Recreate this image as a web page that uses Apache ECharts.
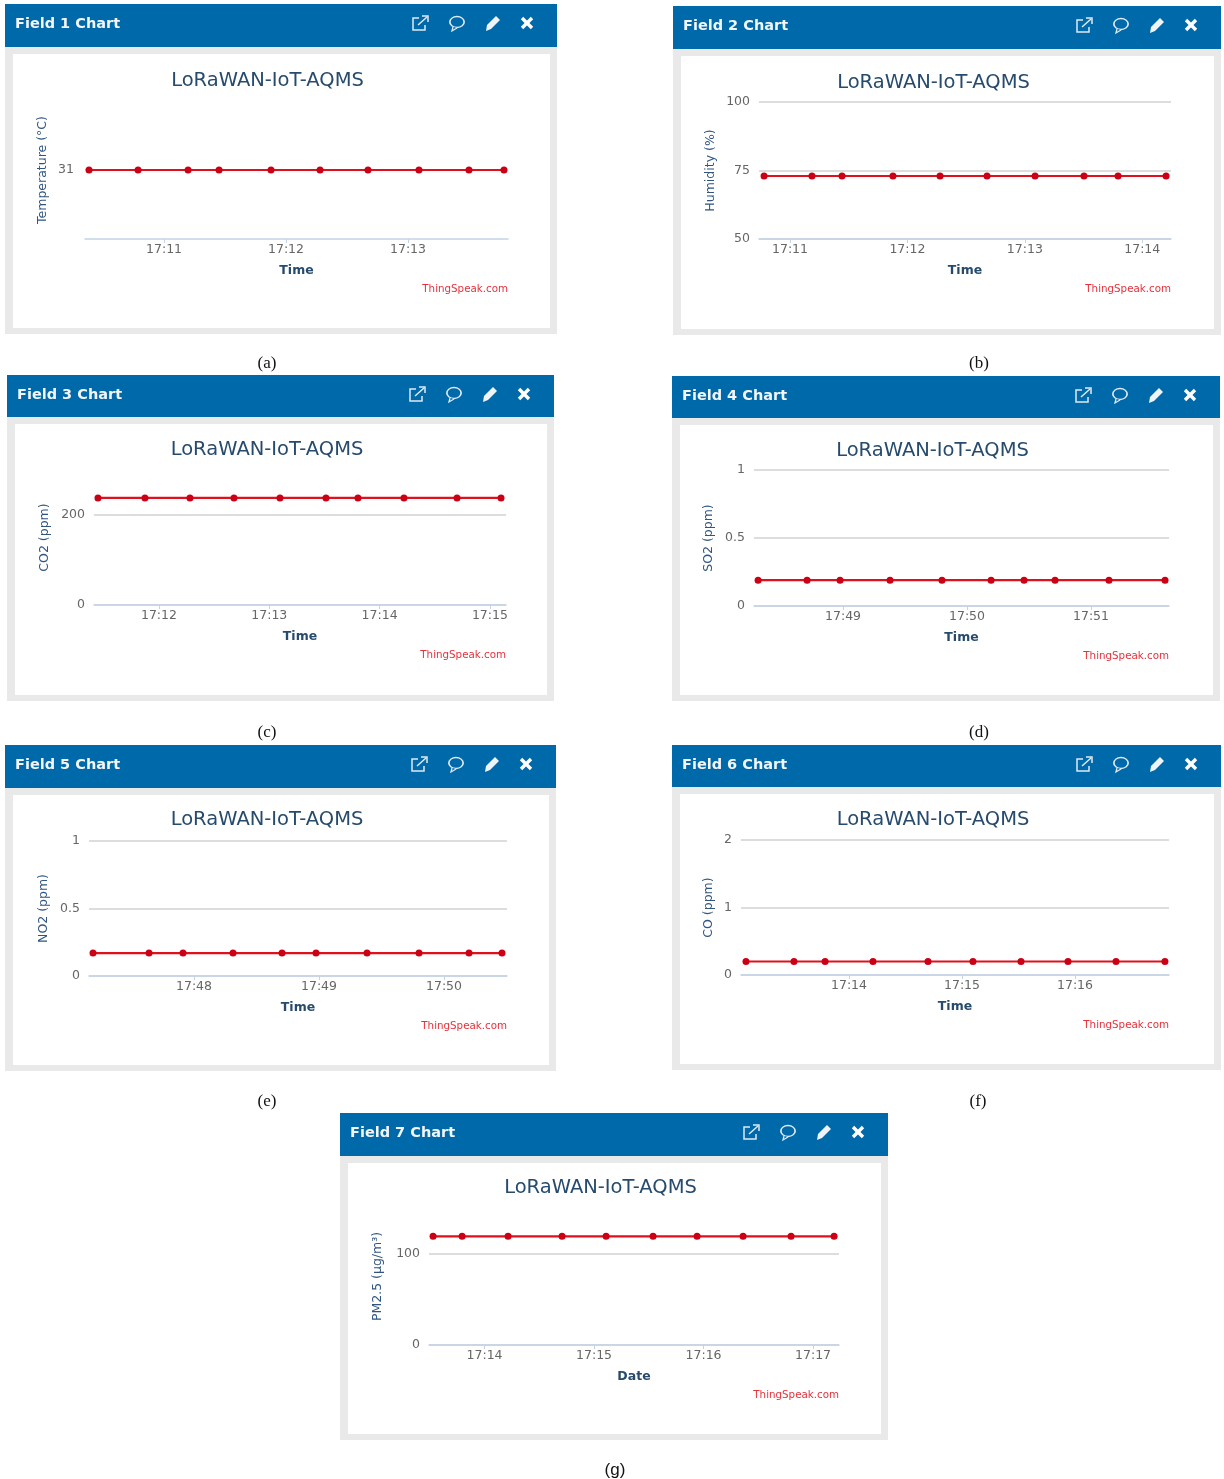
<!DOCTYPE html>
<html>
<head>
<meta charset="utf-8">
<style>
html,body{margin:0;padding:0;background:#fff;}
#chart{width:1224px;height:1479px;}
</style>
<script src="https://cdn.jsdelivr.net/npm/echarts@6/dist/echarts.min.js"></script>
</head>
<body>
<div id="chart"></div>
<script>
// minutes past 17:00 for every reading
var minutes1 = [10.385,10.787,11.197,11.451,11.877,12.279,12.672,13.090,13.500,13.787];
var minutes2 = [10.779,11.187,11.443,11.877,12.278,12.678,13.087,13.504,13.794,14.203];
var minutes3 = [11.447,11.873,12.281,12.680,13.097,13.514,13.804,14.221,14.702,15.101];
var minutes4 = [48.315,48.710,48.976,49.379,49.798,50.194,50.460,50.710,51.145,51.597];
var minutes5 = [47.192,47.640,47.912,48.312,48.704,48.976,49.384,49.800,50.200,50.464];
var minutes6 = [13.088,13.513,13.788,14.212,14.699,15.097,15.522,15.938,16.363,16.796];
var minutes7 = [13.530,13.795,14.215,14.708,15.110,15.539,15.941,16.361,16.799,17.192];

var values1 = [31,31,31,31,31,31,31,31,31,31];
var values2 = [73,73,73,73,73,73,73,73,73,73];
var values3 = [238,238,238,238,238,238,238,238,238,238];
var values4 = [0.19,0.19,0.19,0.19,0.19,0.19,0.19,0.19,0.19,0.19];
var values5 = [0.17,0.17,0.17,0.17,0.17,0.17,0.17,0.17,0.17,0.17];
var values6 = [0.2,0.2,0.2,0.2,0.2,0.2,0.2,0.2,0.2,0.2];
var values7 = [119,119,119,119,119,119,119,119,119,119];

var xTicks1 = [11,12,13];
var xTicks2 = [11,12,13,14];
var xTicks3 = [12,13,14,15];
var xTicks4 = [49,50,51];
var xTicks5 = [48,49,50];
var xTicks6 = [14,15,16];
var xTicks7 = [14,15,16,17];

var yTicks1 = [31];
var yTicks2 = [50,75,100];
var yTicks3 = [0,200];
var yTicks4 = [0,0.5,1];
var yTicks5 = [0,0.5,1];
var yTicks6 = [0,1,2];
var yTicks7 = [0,100];

var fieldNames = ['Field 1 Chart','Field 2 Chart','Field 3 Chart','Field 4 Chart','Field 5 Chart','Field 6 Chart','Field 7 Chart'];
var yNames = ['Temperature (°C)','Humidity (%)','CO2 (ppm)','SO2 (ppm)','NO2 (ppm)','CO (ppm)','PM2.5 (μg/m³)'];
var xNames = ['Time','Time','Time','Time','Time','Time','Date'];
var captions = ['(a)','(b)','(c)','(d)','(e)','(f)','(g)'];
var chartTitle = 'LoRaWAN-IoT-AQMS';
var credit = 'ThingSpeak.com';

// axis limits
var xMins = [10.352,10.736,11.411,48.282,47.160,13.044,13.493];
var xMaxs = [13.820,14.245,15.146,51.629,50.504,16.832,17.237];
var yMins = [30,50,0,0,0,0,0];
var yMaxs = [32,100,300,1,1,2,150];

var allMinutes = [minutes1,minutes2,minutes3,minutes4,minutes5,minutes6,minutes7];
var allValues = [values1,values2,values3,values4,values5,values6,values7];
var allXTicks = [xTicks1,xTicks2,xTicks3,xTicks4,xTicks5,xTicks6,xTicks7];
var allYTicks = [yTicks1,yTicks2,yTicks3,yTicks4,yTicks5,yTicks6,yTicks7];

// layout: panel box, header height, plot box, y name gap, y label margin, title offset
var panels = [
  {x:5,  y:4,    w:552, h:330, head:43, left:85,  right:508,  top:101,  bottom:239,  gap:36, margin:11, titleY:77},
  {x:673,y:6,    w:548, h:329, head:43, left:759, right:1171, top:102,  bottom:239,  gap:42, margin:9,  titleY:77},
  {x:7,  y:375,  w:547, h:326, head:42, left:94,  right:506,  top:470,  bottom:605,  gap:43, margin:9,  titleY:75},
  {x:672,y:376,  w:548, h:325, head:42, left:754, right:1169, top:470,  bottom:606,  gap:39, margin:9,  titleY:75},
  {x:5,  y:745,  w:551, h:326, head:43, left:89,  right:507,  top:841,  bottom:976,  gap:39, margin:9,  titleY:75},
  {x:672,y:745,  w:549, h:325, head:42, left:741, right:1169, top:840,  bottom:975,  gap:26, margin:9,  titleY:75},
  {x:340,y:1113, w:548, h:327, head:43, left:429, right:839,  top:1208, bottom:1345, gap:45, margin:9,  titleY:75}
];
var captionPos = [[267,364],[979,364],[267,733],[979,733],[267,1102],[978,1102],[615,1470]];

var headFont = 'bold 14.5px "DejaVu Sans"';
var blue = '#0069aa';

function minuteLabel(v){
  var m = Math.round(v);
  return '17:' + (m < 10 ? '0' + m : m);
}

function icons(px, py){
  var white = {stroke:'#dfeaf2', fill:null, lineWidth:1.5};
  return [
    {type:'group', x:px-145, y:py-8, silent:true, children:[
      {type:'polyline', shape:{points:[[7,3],[1,3],[1,15],[13,15],[13,10]]}, style:white},
      {type:'polyline', shape:{points:[[6,10],[15,2]]}, style:white},
      {type:'polyline', shape:{points:[[10,1],[16,1],[16,7]]}, style:white}
    ]},
    {type:'group', x:px-100, y:py, silent:true, children:[
      {type:'circle', scaleX:1.3, shape:{cx:0,cy:-1,r:5.5}, style:{stroke:'#dfeaf2', fill:null, lineWidth:1.3}},
      {type:'polyline', shape:{points:[[-4,4],[-5,8],[0,5]]}, style:{stroke:'#dfeaf2', fill:blue, lineWidth:1.3}}
    ]},
    {type:'polygon', x:px-72, y:py-8, silent:true, shape:{points:[[11,1],[15,5],[6,14],[1,16],[2,10]]}, style:{fill:'#eef4f8'}},
    {type:'group', x:px-36, y:py-6, silent:true, children:[
      {type:'line', shape:{x1:1,y1:1,x2:11,y2:11}, style:{stroke:'#fff', lineWidth:3.4}},
      {type:'line', shape:{x1:11,y1:1,x2:1,y2:11}, style:{stroke:'#fff', lineWidth:3.4}}
    ]}
  ];
}

var grids = [], xAxes = [], yAxes = [], series = [], graphics = [];

for(var i = 0; i < panels.length; i++){
  var p = panels[i];
  var inner = p.y + p.head + 7;

  graphics.push({type:'rect', z:-3, silent:true, shape:{x:p.x,y:p.y,width:p.w,height:p.h}, style:{fill:'#e9e9e9'}});
  graphics.push({type:'rect', z:-2, silent:true, shape:{x:p.x+8,y:inner,width:p.w-15,height:p.y+p.h-6-inner}, style:{fill:'#fff'}});
  graphics.push({type:'rect', z:-2, silent:true, shape:{x:p.x,y:p.y,width:p.w,height:p.head}, style:{fill:blue}});
  graphics.push({type:'text', x:p.x+10, y:p.y+20, silent:true, style:{text:fieldNames[i], fill:'#f2f6f9', font:headFont, textVerticalAlign:'middle'}});
  graphics.push({type:'text', x:p.x+p.w/2-13.5, y:p.y+p.titleY, silent:true, style:{text:chartTitle, fill:'#274b6d', font:'19.5px "DejaVu Sans"', textAlign:'center', textVerticalAlign:'middle'}});
  graphics.push({type:'text', x:p.right, y:p.bottom+50, silent:true, style:{text:credit, fill:'#e8303a', font:'10.3px "DejaVu Sans"', textAlign:'right', textVerticalAlign:'middle'}});
  graphics.push({type:'text', x:captionPos[i][0], y:captionPos[i][1], silent:true, style:{text:captions[i], fill:'#111', font:(i == 6 ? '17px "Liberation Sans"' : '17px "Liberation Serif"'), textAlign:'center', textVerticalAlign:'middle'}});
  graphics = graphics.concat(icons(p.x+p.w, p.y+19));

  grids.push({left:p.left, top:p.top, width:p.right-p.left, height:p.bottom-p.top, containLabel:false});

  xAxes.push({
    type:'value', gridIndex:i, min:xMins[i], max:xMaxs[i],
    name:xNames[i], nameLocation:'middle', nameGap:25.5,
    nameTextStyle:{color:'#274b6d', fontWeight:'bold', fontSize:12.5, fontFamily:'DejaVu Sans'},
    axisLine:{show:true, onZero:false, lineStyle:{color:'#c3d4e8', width:1.5}},
    axisTick:{show:true, length:4, customValues:allXTicks[i], lineStyle:{color:'#c3d4e8'}},
    axisLabel:{customValues:allXTicks[i], formatter:minuteLabel, color:'#666', fontSize:12.5, fontFamily:'DejaVu Sans', margin:4},
    splitLine:{show:false}
  });

  yAxes.push({
    type:'value', gridIndex:i, min:yMins[i], max:yMaxs[i],
    name:yNames[i], nameLocation:'middle', nameGap:p.gap, nameMoveOverlap:false,
    nameTextStyle:{color:'#2f5580', fontSize:12.5, fontFamily:'DejaVu Sans'},
    axisLine:{show:false},
    axisTick:{show:false, customValues:allYTicks[i]},
    axisLabel:{customValues:allYTicks[i], color:'#666', fontSize:12.5, fontFamily:'DejaVu Sans', margin:p.margin},
    splitLine:{show:true, lineStyle:{color:'#d2d2d2', width:1.5}}
  });

  var rows = [];
  for(var k = 0; k < allMinutes[i].length; k++){
    rows.push([allMinutes[i][k], allValues[i][k]]);
  }
  series.push({
    type:'line', xAxisIndex:i, yAxisIndex:i, data:rows,
    symbol:'circle', symbolSize:7, showSymbol:true, clip:false,
    lineStyle:{color:'#e0101c', width:2.2},
    itemStyle:{color:'#cc0014'}
  });
}

var myChart = echarts.init(document.getElementById('chart'), null, {renderer:'canvas'});
var option = {
  animation:false,
  backgroundColor:'#fff',
  grid:grids,
  xAxis:xAxes,
  yAxis:yAxes,
  series:series,
  graphic:{elements:graphics}
};
myChart.setOption(option);
</script>
</body>
</html>
